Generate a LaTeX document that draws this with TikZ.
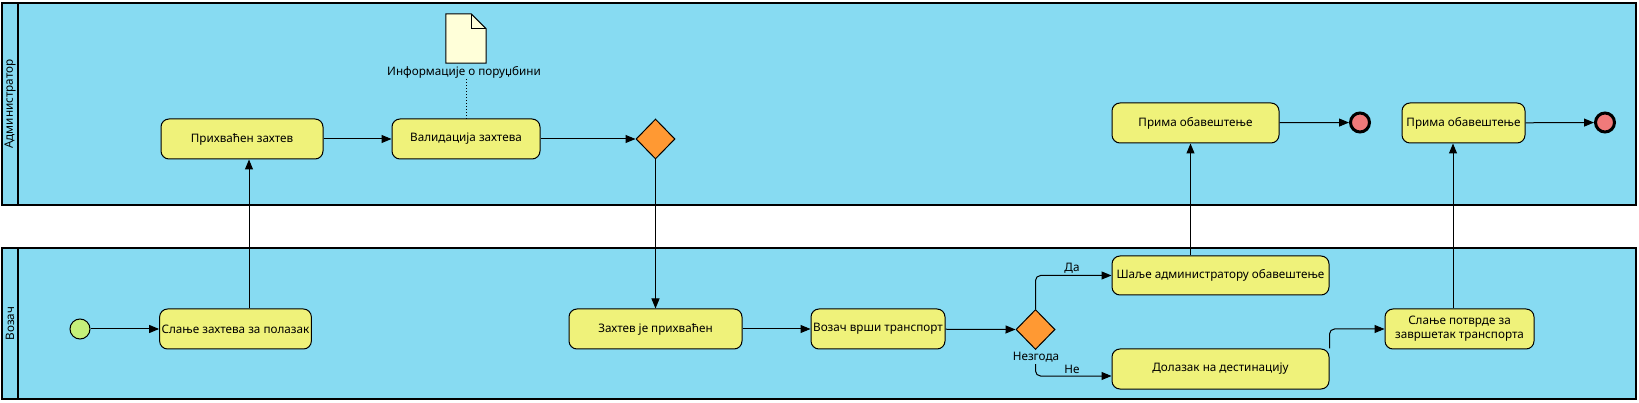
\documentclass[tikz,border=0pt]{standalone}
\usepackage{fontspec}
\setmainfont{Noto Sans}
\usetikzlibrary{shapes.geometric,arrows.meta,calc}
\definecolor{lanefill}{RGB}{135,219,242}
\definecolor{taskfill}{RGB}{239,242,122}
\definecolor{gwfill}{RGB}{255,153,51}
\definecolor{endfill}{RGB}{240,122,122}
\definecolor{startfill}{RGB}{198,240,122}
\definecolor{docfill}{RGB}{255,255,217}
\begin{document}
\begin{tikzpicture}[x=1pt,y=-1pt,
  font=\fontsize{11.7}{14}\selectfont,
  lanebox/.style={draw=black, line width=1.3pt, fill=lanefill},
  taskbox/.style={draw=black, line width=1pt, fill=taskfill, rounded corners=8pt,
    minimum height=40pt, inner sep=2pt, align=center},
  gatebox/.style={draw=black, line width=1pt, fill=gwfill, diamond,
    minimum width=39pt, minimum height=40pt, inner sep=0pt},
  startev/.style={draw=black, line width=1pt, fill=startfill, circle,
    minimum size=20pt, inner sep=0pt},
  endev/.style={draw=black, line width=3pt, fill=endfill, circle,
    minimum size=19pt, inner sep=0pt},
  flow/.style={draw=black, line width=1pt, -{Triangle[length=10pt,width=8pt]}},
  lbl/.style={inner sep=1pt},
]
\useasboundingbox (0,0) rectangle (1639,403);
% lanes
\path[lanebox] (2,3) rectangle (1636,205);
\draw[line width=1.3pt] (18,3) -- (18,205);
\path[lanebox] (2,248) rectangle (1636,399);
\draw[line width=1.3pt] (18,248) -- (18,399);
\node[rotate=90] (laneA) at (10,104) {Администратор};
\node[rotate=90] (laneB) at (10,323.5) {Возач};

% top lane nodes
\node[taskbox, minimum width=162pt] (prihvacen) at (242,139) {Прихваћен захтев};
\node[taskbox, minimum width=148pt] (validacija) at (466,139) {Валидација захтева};
\node[gatebox] (gw1) at (655.5,139) {};
\node[taskbox, minimum width=167pt] (prima1) at (1195.5,123) {Прима обавештење};
\node[endev] (end1) at (1360,122.5) {};
\node[taskbox, minimum width=123pt] (prima2) at (1463.5,123) {Прима обавештење};
\node[endev] (end2) at (1605,122.5) {};

% document
\node[minimum width=40pt, minimum height=49pt, inner sep=0pt] (doc) at (466,38.5) {};
\draw[line width=1pt, fill=docfill]
  (doc.north west) -- ($(doc.north east)+(-15,0)$) -- ($(doc.north east)+(0,15)$)
  -- (doc.south east) -- (doc.south west) -- cycle;
\draw[line width=1pt] ($(doc.north east)+(-15,0)$) -- ($(doc.north east)+(-15,15)$)
  -- ($(doc.north east)+(0,15)$);
\node[lbl] (doclbl) at (464,72) {Информације о поруџбини};

% bottom lane nodes
\node[startev] (start) at (80,329) {};
\node[taskbox, minimum width=149pt] (slanje) at (235.5,329) {Слање захтева за полазак};
\node[taskbox, minimum width=173pt] (zahtev) at (655.5,329) {Захтев је прихваћен};
\node[taskbox, minimum width=134pt] (vozac) at (878,329) {Возач врши транспорт};
\node[gatebox] (gw2) at (1035.5,329.5) {};
\node[lbl, inner sep=2pt] (nezgoda) at (1036,357) {Незгода};
\node[taskbox, minimum width=217pt, minimum height=39pt] (salje) at (1220.5,275.5) {Шаље администратору обавештење};
\node[taskbox, minimum width=217pt] (dolazak) at (1220.5,369) {Долазак на дестинацију};
\node[taskbox, minimum width=149pt, inner sep=1pt] (potvrda) at (1459.5,329) {Слање потврде за\\завршетак транспорта};

% helper x-positions
\coordinate (xa) at (249,0);
\coordinate (xb) at (1190.5,0);
\coordinate (xc) at (1453,0);

% connectors
\draw[flow] (start) -- (slanje);
\draw[flow] (slanje.north -| xa) -- (prihvacen.south -| xa);
\draw[flow] (prihvacen) -- (validacija);
\draw[flow] (validacija) -- (gw1);
\draw[flow] (gw1) -- (zahtev);
\draw[flow] (zahtev) -- (vozac);
\draw[flow] (vozac) -- (gw2.west);
\draw[flow, rounded corners=5pt] (gw2.north) |- (salje.west)
  node[pos=0.74, above, lbl, yshift=1pt] (da) {Да};
\draw[flow, rounded corners=5pt] (nezgoda.south -| gw2.south) |- ($(dolazak.west)+(0,7)$)
  node[pos=0.74, above, lbl, yshift=1pt] (ne) {Не};
\draw[flow, rounded corners=5pt] (dolazak.north east) |- (potvrda.west);
\draw[flow] (salje.north -| xb) -- (prima1.south -| xb);
\draw[flow] (potvrda.north -| xc) -- (prima2.south -| xc);
\draw[flow] (prima1) -- (end1);
\draw[flow] (prima2) -- (end2);
\draw[line width=1pt, dotted] (doclbl.south -| validacija.north) -- (validacija.north);
\end{tikzpicture}
\end{document}
